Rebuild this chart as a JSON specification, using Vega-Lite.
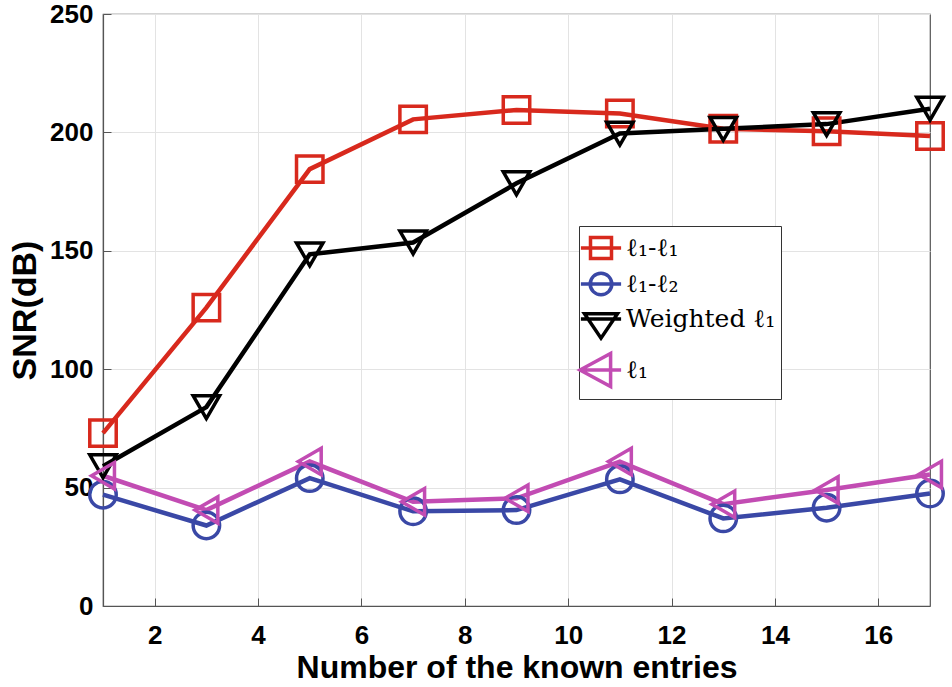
{
  "$schema": "https://vega.github.io/schema/vega-lite/v6.json",
  "width": 827,
  "height": 592,
  "autosize": {"type": "none"},
  "padding": {"left": 103, "top": 14, "right": 22, "bottom": 81},
  "background": "white",
  "config": {
    "view": {"stroke": "#555555", "strokeWidth": 1.2},
    "axis": {
      "labelFont": "Liberation Sans",
      "labelFontWeight": "bold",
      "labelFontSize": 26,
      "labelColor": "black",
      "titleFont": "Liberation Sans",
      "titleFontWeight": "bold",
      "titleColor": "black",
      "gridColor": "#e3e3e3",
      "gridWidth": 1,
      "domainColor": "#555555",
      "domainWidth": 1.2,
      "tickColor": "#555555",
      "tickSize": -8,
      "tickWidth": 1
    }
  },
  "data": {
    "values": [
      {"x": 1, "y": 73, "s": "ℓ₁-ℓ₁"},
      {"x": 3, "y": 126, "s": "ℓ₁-ℓ₁"},
      {"x": 5, "y": 184.5, "s": "ℓ₁-ℓ₁"},
      {"x": 7, "y": 205.5, "s": "ℓ₁-ℓ₁"},
      {"x": 9, "y": 209.5, "s": "ℓ₁-ℓ₁"},
      {"x": 11, "y": 208, "s": "ℓ₁-ℓ₁"},
      {"x": 13, "y": 201.5, "s": "ℓ₁-ℓ₁"},
      {"x": 15, "y": 200.5, "s": "ℓ₁-ℓ₁"},
      {"x": 17, "y": 198.5, "s": "ℓ₁-ℓ₁"},
      {"x": 1, "y": 47, "s": "ℓ₁-ℓ₂"},
      {"x": 3, "y": 34, "s": "ℓ₁-ℓ₂"},
      {"x": 5, "y": 54, "s": "ℓ₁-ℓ₂"},
      {"x": 7, "y": 40, "s": "ℓ₁-ℓ₂"},
      {"x": 9, "y": 40.5, "s": "ℓ₁-ℓ₂"},
      {"x": 11, "y": 53.5, "s": "ℓ₁-ℓ₂"},
      {"x": 13, "y": 37, "s": "ℓ₁-ℓ₂"},
      {"x": 15, "y": 41.5, "s": "ℓ₁-ℓ₂"},
      {"x": 17, "y": 47.5, "s": "ℓ₁-ℓ₂"},
      {"x": 1, "y": 59, "s": "Weighted ℓ₁"},
      {"x": 3, "y": 84, "s": "Weighted ℓ₁"},
      {"x": 5, "y": 148.5, "s": "Weighted ℓ₁"},
      {"x": 7, "y": 153.5, "s": "Weighted ℓ₁"},
      {"x": 9, "y": 178.5, "s": "Weighted ℓ₁"},
      {"x": 11, "y": 199.5, "s": "Weighted ℓ₁"},
      {"x": 13, "y": 201.5, "s": "Weighted ℓ₁"},
      {"x": 15, "y": 203.5, "s": "Weighted ℓ₁"},
      {"x": 17, "y": 210, "s": "Weighted ℓ₁"},
      {"x": 1, "y": 55, "s": "ℓ₁"},
      {"x": 3, "y": 40.5, "s": "ℓ₁"},
      {"x": 5, "y": 61, "s": "ℓ₁"},
      {"x": 7, "y": 44, "s": "ℓ₁"},
      {"x": 9, "y": 45.5, "s": "ℓ₁"},
      {"x": 11, "y": 61, "s": "ℓ₁"},
      {"x": 13, "y": 43, "s": "ℓ₁"},
      {"x": 15, "y": 49, "s": "ℓ₁"},
      {"x": 17, "y": 55.5, "s": "ℓ₁"}
    ]
  },
  "encoding": {
    "x": {
      "field": "x",
      "type": "quantitative",
      "scale": {"domain": [1, 17], "nice": false, "zero": false},
      "axis": {
        "values": [2, 4, 6, 8, 10, 12, 14, 16],
        "title": "Number of the known entries",
        "titleFontSize": 32,
        "titlePadding": 4,
        "labelPadding": 24
      }
    },
    "y": {
      "field": "y",
      "type": "quantitative",
      "scale": {"domain": [0, 250], "nice": false},
      "axis": {
        "values": [0, 50, 100, 150, 200, 250],
        "title": "SNR(dB)",
        "titleFontSize": 34,
        "titlePadding": 7,
        "labelPadding": 18
      }
    }
  },
  "layer": [
    {
      "mark": {"type": "line", "strokeWidth": 4.5},
      "encoding": {
        "color": {
          "field": "s",
          "type": "nominal",
          "scale": {
            "domain": ["ℓ₁-ℓ₁", "ℓ₁-ℓ₂", "Weighted ℓ₁", "ℓ₁"],
            "range": ["#d8291d", "#3a48a6", "#000000", "#c24cb3"]
          },
          "legend": {
            "orient": "none",
            "legendX": 476,
            "legendY": 212,
            "title": null,
            "strokeColor": "#333333",
            "fillColor": "white",
            "padding": 5,
            "labelFont": "DejaVu Serif",
            "labelFontSize": 25,
            "labelColor": "black",
            "labelOffset": 8,
            "rowPadding": 0,
            "symbolSize": 900,
            "symbolStrokeWidth": 3.5,
            "encode": {
              "symbols": {
                "update": {
                  "fill": {"value": "transparent"},
                  "strokeWidth": {"value": 3.5},
                  "shape": {"signal": "datum.value === 'ℓ₁-ℓ₁' ? 'M-1.34,0H1.34M-0.7,-0.7H0.7V0.7H-0.7Z' : datum.value === 'ℓ₁-ℓ₂' ? 'M-1.34,0H1.34M0.72,0A0.72,0.72 0 1,1 -0.72,0A0.72,0.72 0 1,1 0.72,0Z' : datum.value === 'Weighted ℓ₁' ? 'M-1.34,0H1.34M-1.1,-0.35H1.1L0,1.28Z' : 'M-1.34,0H1.34M-1.4,0L0.64,-1.1V1.1Z'"}
                }
              }
            }
          }
        }
      }
    },
    {
      "mark": {"type": "point", "filled": false, "strokeWidth": 3.5, "opacity": 1},
      "encoding": {
        "stroke": {
          "field": "s",
          "type": "nominal",
          "scale": {
            "domain": ["Weighted ℓ₁", "ℓ₁", "ℓ₁-ℓ₁", "ℓ₁-ℓ₂"],
            "range": ["#000000", "#c24cb3", "#d8291d", "#3a48a6"]
          },
          "legend": null
        },
        "shape": {
          "field": "s",
          "type": "nominal",
          "scale": {
            "domain": ["Weighted ℓ₁", "ℓ₁", "ℓ₁-ℓ₁", "ℓ₁-ℓ₂"],
            "range": ["triangle-down", "triangle-left", "square", "circle"]
          },
          "legend": null
        },
        "size": {
          "field": "s",
          "type": "nominal",
          "scale": {
            "domain": ["Weighted ℓ₁", "ℓ₁", "ℓ₁-ℓ₁", "ℓ₁-ℓ₂"],
            "range": [700, 700, 520, 520]
          },
          "legend": null
        }
      }
    }
  ]
}
